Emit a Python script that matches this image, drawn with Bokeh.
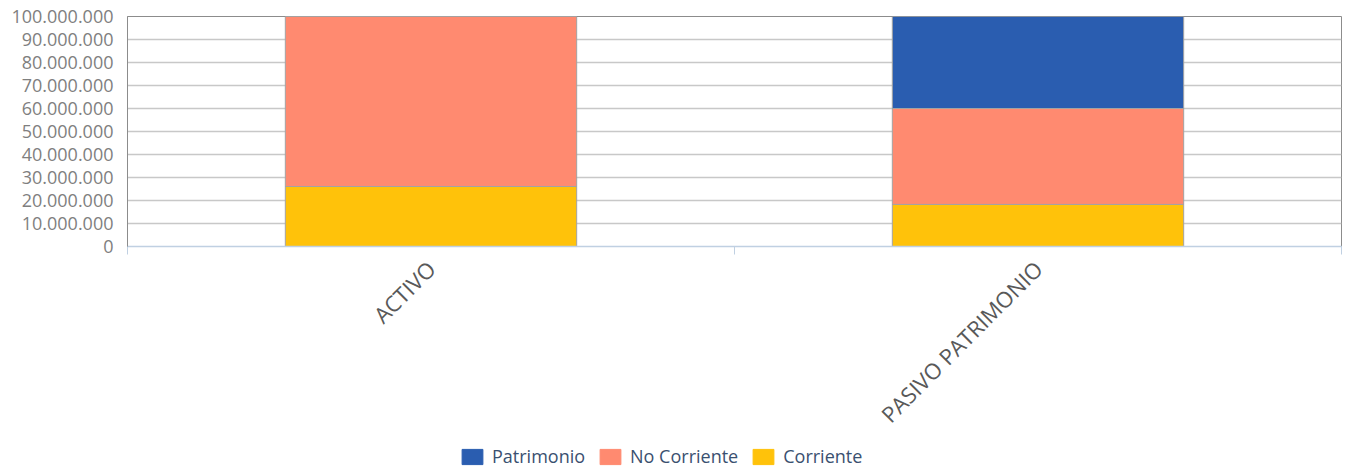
import math
from bokeh.plotting import figure
from bokeh.layouts import column
from bokeh.models import (ColumnDataSource, Range1d, FixedTicker, CustomJSTickFormatter,
                          Legend, LegendItem)
from bokeh.embed import file_html
from bokeh.resources import INLINE

categories = ["ACTIVO", "PASIVO PATRIMONIO"]
corriente = [26_100_000, 18_300_000]
no_corriente = [73_900_000, 41_700_000]
patrimonio = [0, 40_000_000]
series = ["Corriente", "No Corriente", "Patrimonio"]
colors = ["#FFC20A", "#FF8A70", "#2A5DB0"]
y_ticks = list(range(0, 100_000_001, 10_000_000))

xpos = [i + 0.5 for i in range(len(categories))]
source = ColumnDataSource(dict(x=xpos, cat=categories, Corriente=corriente,
                               **{"No Corriente": no_corriente}, Patrimonio=patrimonio))

FONT = "Open Sans"

p = figure(x_range=Range1d(0, len(categories)), y_range=Range1d(0, 100_000_000),
           frame_width=1214, frame_height=230,
           min_border_left=127, min_border_top=16, min_border_right=4, min_border_bottom=190,
           output_backend="svg", toolbar_location=None)

renderers = p.vbar_stack(series, x="x", width=0.48, source=source, color=colors,
                         line_color="#a3a3a3", line_width=1)

p.outline_line_color = "#8c8c8c"
p.outline_line_width = 1

# y axis
p.yaxis.ticker = FixedTicker(ticks=y_ticks)
p.yaxis.formatter = CustomJSTickFormatter(
    code='return Math.round(tick).toString().replace(/\\B(?=(\\d{3})+(?!\\d))/g, ".");')
p.yaxis.major_tick_line_color = None
p.yaxis.major_tick_out = 0
p.yaxis.minor_tick_line_color = None
p.yaxis.axis_line_color = "#8c8c8c"
p.yaxis.major_label_text_font = FONT
p.yaxis.major_label_text_font_size = "18px"
p.yaxis.major_label_text_color = "#7f7f7f"
p.yaxis.major_label_standoff = 14

# x axis
p.xaxis.ticker = FixedTicker(ticks=xpos, minor_ticks=list(range(len(categories) + 1)))
p.xaxis.major_label_overrides = {x: c for x, c in zip(xpos, categories)}
p.xaxis.major_tick_line_color = None
p.xaxis.major_tick_out = 0
p.xaxis.major_tick_in = 0
p.xaxis.minor_tick_line_color = "#c0d0e2"
p.xaxis.minor_tick_out = 8
p.xaxis.minor_tick_in = 0
p.xaxis.axis_line_color = "#c0d0e2"
p.xaxis.axis_line_width = 1.5
p.xaxis.major_label_orientation = math.pi / 4
p.xaxis.major_label_text_font = FONT
p.xaxis.major_label_text_font_size = "22px"
p.xaxis.major_label_text_color = "#595959"
p.xaxis.major_label_standoff = 10

p.xgrid.grid_line_color = None
p.ygrid.grid_line_color = "#c8c8c8"
p.ygrid.grid_line_width = 1.5

# legend in its own strip below the chart (its bars sit outside its visible range)
lf = figure(x_range=Range1d(0, len(categories)), y_range=Range1d(200_000_000, 300_000_000),
            width=1345, height=30, min_border=0,
            output_backend="svg", toolbar_location=None)
lf.axis.visible = False
lf.grid.visible = False
lf.outline_line_color = None
lrend = lf.vbar_stack(series, x="x", width=0.48, source=source, color=colors,
                      line_color=colors, line_width=1)
items = [LegendItem(label=s, renderers=[r]) for s, r in zip(series, lrend)]
items = items[::-1]
legend = Legend(items=items, orientation="horizontal", location=(332, 4),
                border_line_color=None, background_fill_alpha=0,
                label_text_font=FONT, label_text_font_size="18px",
                label_text_color="#3a5070",
                glyph_width=26, glyph_height=19, spacing=12, label_standoff=7,
                padding=0, margin=0)
lf.add_layout(legend, "center")

layout = column(p, lf, spacing=0)
open("out.html", "w").write(file_html(layout, INLINE))
